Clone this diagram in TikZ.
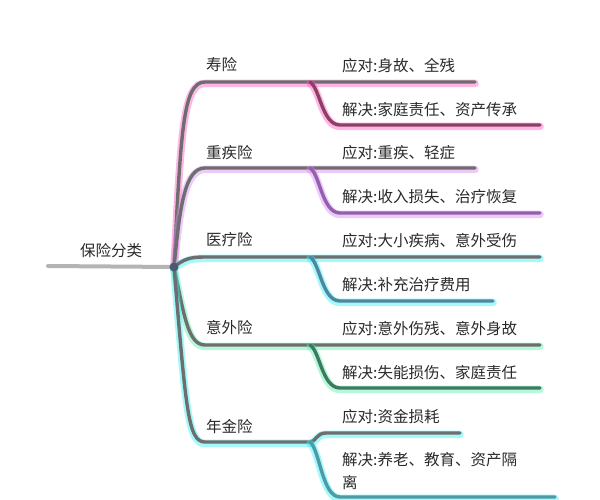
\documentclass[tikz,border=0pt]{standalone}
\usepackage{fontspec}
\setmainfont{Noto Sans CJK SC}
\usetikzlibrary{calc,positioning}
\definecolor{mapInk}{HTML}{2A2A2A}
\definecolor{mapGray}{HTML}{6E6E6E}
\definecolor{mapRoot}{HTML}{B4B4B4}
\definecolor{mapDot}{HTML}{4A5A70}
\definecolor{mapPink}{HTML}{FF5FC8}
\definecolor{mapPinkCore}{HTML}{8E4064}
\definecolor{mapViolet}{HTML}{D88CF0}
\definecolor{mapVioletCore}{HTML}{9460AE}
\definecolor{mapCyan}{HTML}{33F2F8}
\definecolor{mapBlueCore}{HTML}{4F86A0}
\definecolor{mapMint}{HTML}{5CF0B4}
\definecolor{mapGreenCore}{HTML}{3E7A5E}
\definecolor{mapTealCore}{HTML}{4E9AA6}

\begin{document}
\begin{tikzpicture}[x=1pt,y=-1pt,line cap=round,line join=round]
\path[fill=white] (0,0) rectangle (600,500);
\tikzset{label/.style={anchor=west,text=mapInk,inner sep=0pt,font=\fontsize{15.5}{23}\selectfont},branch/.style={draw=mapGray,line width=3.4pt,preaction={draw=#1,line width=7.5pt,opacity=.45,transform canvas={yshift=-1.4pt}}},twig/.style 2 args={draw=#2,line width=3.4pt,preaction={draw=#1,line width=7.5pt,opacity=.45,transform canvas={yshift=-1.4pt}}}}
% root
\coordinate (root) at (174,267);
\node[label,anchor=center] (rootLabel) at (111,251) {保险分类};
\coordinate (rootStart) at (48,266);
\draw[draw=mapRoot,line width=4pt] (rootStart) -- (root);
% main branches
\node[label] (shou) at (206,65) {寿险};
\node[label] (zhong) at (206,153) {重疾险};
\node[label] (yi) at (206,240) {医疗险};
\node[label] (wai) at (206,328) {意外险};
\node[label] (nian) at (206,427) {年金险};
\coordinate (shouA) at (205,82); \coordinate (shouB) at (310,82); \coordinate (shouEnd) at (475,82);
\coordinate (zhongA) at (205,168); \coordinate (zhongB) at (310,168); \coordinate (zhongEnd) at (475,168);
\coordinate (yiA) at (205,257); \coordinate (yiB) at (310,257); \coordinate (yiEnd) at (540,257);
\coordinate (waiA) at (205,345); \coordinate (waiB) at (310,345); \coordinate (waiEnd) at (540,345);
\coordinate (nianA) at (205,442); \coordinate (nianB) at (310,442); \coordinate (nianEnd) at (460,433);
\draw[branch=mapPink] (root) .. controls (181,130) and (183,82) .. (shouA) -- (shouEnd);
\draw[branch=mapViolet] (root) .. controls (180,205) and (185,168) .. (zhongA) -- (zhongEnd);
\draw[branch=mapCyan] (root) .. controls (184,259) and (190,257) .. (yiA) -- (yiEnd);
\draw[branch=mapMint] (root) .. controls (184,315) and (188,345) .. (waiA) -- (waiEnd);
\draw[branch=mapCyan] (root) .. controls (186,410) and (188,442) .. (nianA) -- (nianB) .. controls (316,442) and (316,433) .. (326,433) -- (nianEnd);
% leaves
\node[label] (shouCope) at (342,66) {应对:身故、全残};
\node[label] (shouFix) at (342,110) {解决:家庭责任、资产传承};
\node[label] (zhongCope) at (342,153) {应对:重疾、轻症};
\node[label] (zhongFix) at (342,197) {解决:收入损失、治疗恢复};
\node[label] (yiCope) at (342,241) {应对:大小疾病、意外受伤};
\node[label] (yiFix) at (342,285) {解决:补充治疗费用};
\node[label] (waiCope) at (342,329) {应对:意外伤残、意外身故};
\node[label] (waiFix) at (342,373) {解决:失能损伤、家庭责任};
\node[label] (nianCope) at (342,417) {应对:资金损耗};
\node[label,anchor=north west,align=left] (nianFix) at (342,452) {解决:养老、教育、资产隔\\离};
\coordinate (shouC) at (340,125); \coordinate (shouFixEnd) at (540,125);
\coordinate (zhongC) at (340,213); \coordinate (zhongFixEnd) at (540,213);
\coordinate (yiC) at (340,301); \coordinate (yiFixEnd) at (493,301);
\coordinate (waiC) at (340,388); \coordinate (waiFixEnd) at (540,388);
\coordinate (nianC) at (340,497); \coordinate (nianFixEnd) at (555,497);
\draw[twig={mapPink}{mapPinkCore}] (shouB) .. controls (320,88) and (322,125) .. (shouC) -- (shouFixEnd);
\draw[twig={mapViolet}{mapVioletCore}] (zhongB) .. controls (320,174) and (322,213) .. (zhongC) -- (zhongFixEnd);
\draw[twig={mapCyan}{mapBlueCore}] (yiB) .. controls (320,263) and (322,301) .. (yiC) -- (yiFixEnd);
\draw[twig={mapMint}{mapGreenCore}] (waiB) .. controls (320,351) and (322,388) .. (waiC) -- (waiFixEnd);
\draw[twig={mapCyan}{mapTealCore}] (nianB) .. controls (320,450) and (322,497) .. (nianC) -- (nianFixEnd);
\fill[mapDot] (root) circle (4.5);
\end{tikzpicture}
\end{document}
